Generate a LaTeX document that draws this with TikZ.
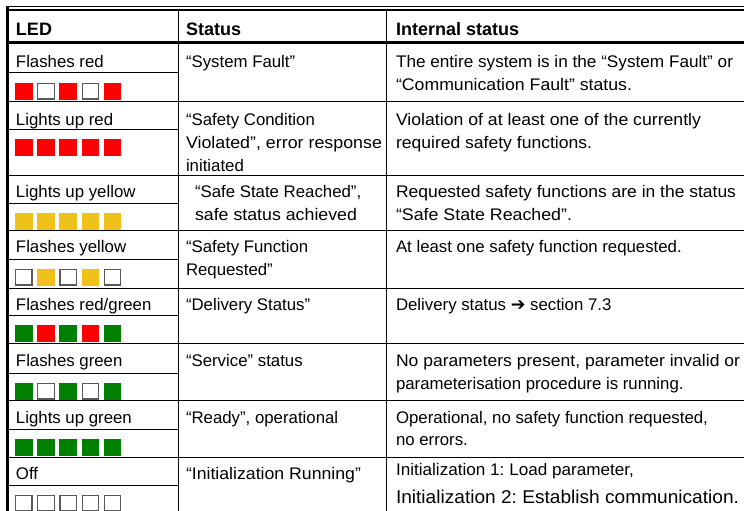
\documentclass[tikz,border=0pt]{standalone}
\usepackage{fontspec}
\usepackage{graphicx}
\setmainfont{Liberation Sans}
\newfontfamily\symfont{DejaVu Sans}
\frenchspacing
\definecolor{ledred}{RGB}{255,0,0}
\definecolor{ledyellow}{RGB}{238,194,26}
\definecolor{ledgreen}{RGB}{0,128,0}
\definecolor{ledgray}{RGB}{90,90,90}
\newcommand\fitto[2]{\resizebox{#1pt}{\height}{#2}}
\tikzset{
  thinl/.style={line width=1pt, black},
  txt/.style={anchor=base west, inner sep=0pt, outer sep=0pt, font=\fontsize{16.8}{20}\selectfont},
  bigtxt/.style={txt, font=\fontsize{18.5}{22}\selectfont},
  hdr/.style={txt, font=\fontsize{18}{20}\selectfont\bfseries},
  sq/.style={anchor=north west, minimum width=17.5pt, minimum height=16.5pt, inner sep=0pt, outer sep=0pt},
  ledR/.style={sq, fill=ledred},
  ledY/.style={sq, fill=ledyellow},
  ledG/.style={sq, fill=ledgreen},
  ledW/.style={sq, draw=ledgray, fill=white, line width=1.2pt, minimum width=16.3pt, minimum height=15.3pt, xshift=0.6pt, yshift=-0.6pt},
}
\begin{document}
\begin{tikzpicture}[x=1pt,y=-1pt]
\useasboundingbox (0,0) rectangle (744,511);
\fill[white] (0,0) rectangle (744,511);
% frame
\draw[thinl] (6,6.5) -- (744,6.5);
\draw[line width=2pt] (6,10) -- (744,10);
\draw[line width=3pt] (7.5,6) -- (7.5,511);
\draw[line width=3pt] (9,42.5) -- (744,42.5);
\draw[thinl] (178,10) -- (178,511);
\draw[thinl] (386,10) -- (386,511);
% row lines
\foreach \y in {101,175,230,288,343,400,457}
  \draw[thinl] (9,\y) -- (744,\y);
% sub lines in LED column
\foreach \y in {73,129,203,259,315,373,429,485}
  \draw[thinl] (9,\y) -- (178,\y);
% LED squares
\foreach \r/\yt/\cols in {1/83/{R,W,R,W,R},2/139/{R,R,R,R,R},3/213/{Y,Y,Y,Y,Y},4/269/{W,Y,W,Y,W},5/325/{G,R,G,R,G},6/383/{G,W,G,W,G},7/439/{G,G,G,G,G},8/495/{W,W,W,W,W}}
  \foreach \c [count=\i from 0] in \cols
    \node[led\c] (sq-\r-\i) at (15+22.2*\i,\yt) {};
% header
\node[hdr] (h1) at (16,36) {LED};
\node[hdr] (h2) at (186,36) {Status};
\node[hdr] (h3) at (396,36) {Internal status};
% row 1
\node[txt] (a1) at (16,67.5) {Flashes red};
\node[txt] (b1) at (186,67.5) {“System Fault”};
\node[txt] (c1a) at (396,67) {\fitto{337}{The entire system is in the “System Fault” or}};
\node[txt] (c1b) at (396,90.5) {\fitto{236}{“Communication Fault” status.}};
% row 2
\node[txt] (a2) at (16,125) {Lights up red};
\node[txt] (b2a) at (186,125) {“Safety Condition};
\node[txt] (b2b) at (186,148.3) {\fitto{196}{Violated”, error response}};
\node[txt] (b2c) at (186,171.6) {initiated};
\node[txt] (c2a) at (396,125) {\fitto{305}{Violation of at least one of the currently}};
\node[txt] (c2b) at (396,148.3) {\fitto{196}{required safety functions.}};
% row 3
\node[txt] (a3) at (16,197) {Lights up yellow};
\node[txt] (b3a) at (195,197) {“Safe State Reached”,};
\node[txt] (b3b) at (195,220) {\fitto{162}{safe status achieved}};
\node[txt] (c3a) at (396,197) {\fitto{340}{Requested safety functions are in the status}};
\node[txt] (c3b) at (396,220) {\fitto{176}{“Safe State Reached”.}};
% row 4
\node[txt] (a4) at (16,252.5) {Flashes yellow};
\node[txt] (b4a) at (186,252.5) {“Safety Function};
\node[txt] (b4b) at (186,275.5) {Requested”};
\node[txt] (c4a) at (396,252.5) {At least one safety function requested.};
% row 5
\node[txt] (a5) at (16,310.5) {Flashes red/green};
\node[txt] (b5) at (186,310.5) {“Delivery Status”};
\node[txt] (c5) at (396,310.5) {Delivery status {\symfont\fontsize{17.5}{18}\selectfont ➔} section 7.3};
% row 6
\node[txt] (a6) at (16,366.7) {Flashes green};
\node[txt] (b6) at (186,366.7) {“Service” status};
\node[txt] (c6a) at (396,366.7) {\fitto{344}{No parameters present, parameter invalid or}};
\node[txt] (c6b) at (396,389.5) {parameterisation procedure is running.};
% row 7
\node[txt] (a7) at (16,423) {Lights up green};
\node[txt] (b7) at (186,423) {“Ready”, operational};
\node[txt] (c7a) at (396,423) {Operational, no safety function requested,};
\node[txt] (c7b) at (396,445.5) {no errors.};
% row 8
\node[txt] (a8) at (16,479.5) {Off};
\node[txt] (b8) at (186,479.5) {\fitto{175}{“Initialization Running”}};
\node[txt] (c8a) at (396,475) {\fitto{238}{Initialization 1: Load parameter,}};
\node[bigtxt] (c8b) at (396,503.5) {\fitto{343}{Initialization 2: Establish communication.}};
\end{tikzpicture}
\end{document}
